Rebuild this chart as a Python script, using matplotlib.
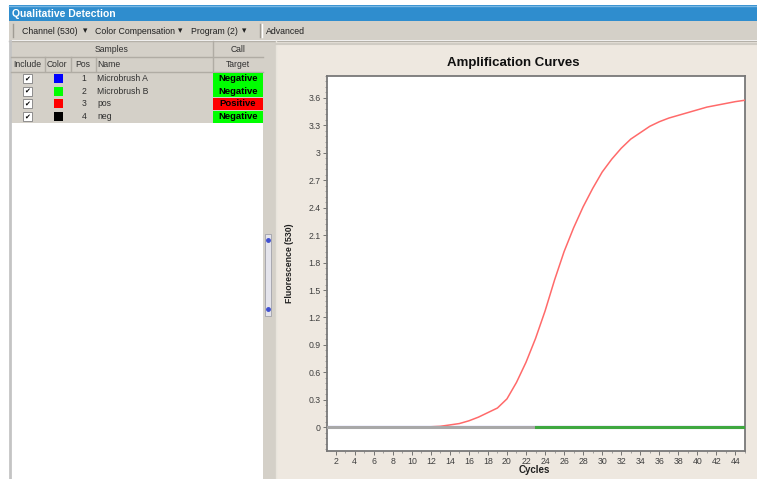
import numpy as np
import matplotlib
matplotlib.use("Agg")
from matplotlib import pyplot as plt
from matplotlib.patches import Rectangle
from matplotlib.ticker import MultipleLocator

plt.rcParams['font.family'] = ['Liberation Sans', 'DejaVu Sans']

# данные
cycles = np.arange(1, 46)
pos_vals = [0, 0, 0, 0, 0, 0, 0, 0, 0, 0, 0, 0.005, 0.01, 0.025, 0.04,
            0.07, 0.11, 0.16, 0.21, 0.31, 0.49, 0.71, 0.97, 1.27, 1.61,
            1.92, 2.18, 2.41, 2.61, 2.79, 2.93, 3.05, 3.15, 3.22, 3.29,
            3.34, 3.38, 3.41, 3.44, 3.47, 3.50, 3.52, 3.54, 3.56, 3.575]
neg_vals = [0.0] * 45
mbA_vals = [0.0] * 45
mbB_vals = [0.0] * 45
green_from = 22.5

sample_pos = [1, 2, 3, 4]
sample_names = ['Microbrush A', 'Microbrush B', 'pos', 'neg']
sample_colors = ['#0000ff', '#00ff00', '#ff0000', '#000000']
sample_calls = ['Negative', 'Negative', 'Positive', 'Negative']
call_colors = {'Negative': '#00ff00', 'Positive': '#ff0000'}

W, H = 757, 479
fig = plt.figure(figsize=(W / 100, H / 100), dpi=100)
fig.patch.set_facecolor('white')

# фон интерфейса в пиксельных координатах
bg = fig.add_axes([0, 0, 1, 1])
bg.set_xlim(0, W)
bg.set_ylim(H, 0)
bg.axis('off')


def box(x0, y0, x1, y1, fc, ec='none', lw=0.8, z=1):
    bg.add_patch(Rectangle((x0, y0), x1 - x0, y1 - y0, facecolor=fc,
                           edgecolor=ec, linewidth=lw, zorder=z))


def vline(x, y0, y1, c, lw=1, z=2):
    bg.plot([x, x], [y0, y1], color=c, lw=lw, zorder=z)


def hline(y, x0, x1, c, lw=1, z=2):
    bg.plot([x0, x1], [y, y], color=c, lw=lw, zorder=z)


# заголовок окна
box(9, 5, W, 21, '#2f8dce')
hline(5.5, 9, W, '#7ab8e4')
bg.text(12, 13.5, 'Qualitative Detection', color='white', fontsize=7.5,
        fontweight='bold', va='center', ha='left', zorder=3)

# панель инструментов
box(9, 21, W, 40, '#d4d0c8')
hline(40.5, 9, W, '#b5b1a9')
vline(13, 24, 37, '#a09c94')
vline(260, 24, 37, '#a09c94')
vline(262, 24, 37, '#ffffff')
tb = [(22, 'Channel (530)'), (83, '\u25be'), (95, 'Color Compensation'),
      (178, '\u25be'), (191, 'Program (2)'), (242, '\u25be'), (266, 'Advanced')]
for x, t in tb:
    bg.text(x, 31, t, fontsize=6.3, color='#202020', va='center', ha='left', zorder=3)

# левая панель – таблица образцов
box(9, 41, 263, H, '#ffffff')
vline(10, 41, H, '#c4c4c4', lw=2)
box(11, 41, 263, 123, '#d4d0c8')
hline(56.5, 11, 263, '#b0aca4')
hline(71.5, 11, 263, '#b0aca4')
vline(212.5, 41, 71, '#b0aca4')
for x in [44.5, 70.5, 95.5]:
    vline(x, 57, 71, '#b0aca4')
bg.text(112, 49, 'Samples', fontsize=6.2, color='#303030', ha='center', va='center', zorder=3)
bg.text(238, 49, 'Call', fontsize=6.2, color='#303030', ha='center', va='center', zorder=3)
for x, t, ha in [(27, 'Include', 'center'), (57, 'Color', 'center'),
                 (83, 'Pos', 'center'), (97, 'Name', 'left'), (238, 'Target', 'center')]:
    bg.text(x, 64, t, fontsize=6.2, color='#303030', ha=ha, va='center', zorder=3)

row_y = [78.5, 91, 103.5, 116.5]
for i, y in enumerate(row_y):
    box(23, y - 4.5, 32, y + 4.5, '#ffffff', ec='#808080', lw=0.6, z=3)
    bg.text(27.5, y, '\u2714', fontsize=5, color='black', ha='center', va='center',
            zorder=4, family='DejaVu Sans')
    box(54, y - 4.5, 63, y + 4.5, sample_colors[i], z=3)
    bg.text(84, y, str(sample_pos[i]), fontsize=6.2, color='#303030',
            ha='center', va='center', zorder=3)
    bg.text(97, y, sample_names[i], fontsize=6.2, color='#303030',
            ha='left', va='center', zorder=3)
    box(213, y - 6, 263, y + 6, call_colors[sample_calls[i]], z=3)
    bg.text(238, y, sample_calls[i], fontsize=6.8, fontweight='bold', color='black',
            ha='center', va='center', zorder=4)

# разделитель
box(263, 41, 276, H, '#d4d0c8')
vline(275.5, 41, H, '#e8e4dc')
box(264.5, 234, 270.5, 316, '#e4e4ec', ec='#a0a0a8', lw=0.6, z=3)
for y in [240, 309]:
    bg.plot(267.5, y, marker='o', ms=2.5, color='#4050d0', zorder=4)

# правая панель
box(276, 41, W, H, '#eee8e0')
hline(44, 276, W, '#d0ccc4', lw=1.5)

bg.text(513, 63, 'Amplification Curves', fontsize=9.5, fontweight='heavy',
        color='#101010', ha='center', va='center', zorder=3)
bg.text(290, 263, 'Fluorescence (530)', fontsize=6.3, fontweight='bold',
        color='#202020', rotation=90, ha='center', va='center', zorder=3)
bg.text(534, 470, 'Cycles', fontsize=7, fontweight='bold',
        color='#202020', ha='center', va='center', zorder=3)

# график
ax = fig.add_axes([327 / W, 1 - 451 / H, (745 - 327) / W, (451 - 76) / H])
ax.set_facecolor('white')
ax.plot(cycles, mbA_vals, color='#0000ff', lw=1.5, zorder=2)
ax.plot(cycles, pos_vals, color='#ff6a6a', lw=1.1, zorder=3)
ax.plot(cycles, neg_vals, color='#a8a8a8', lw=2.2, zorder=4)
green = np.where(cycles >= green_from, np.array(mbB_vals), np.nan)
ax.plot(cycles, green, color='#3fa83f', lw=2.2, zorder=5)

ax.set_xlim(1.1, 45)
ax.set_ylim(-0.26, 3.84)
ax.xaxis.set_major_locator(MultipleLocator(2))
ax.xaxis.set_minor_locator(MultipleLocator(1))
ax.yaxis.set_major_locator(MultipleLocator(0.3))
ax.yaxis.set_minor_locator(MultipleLocator(0.06))
ax.set_yticks(np.arange(0, 3.61, 0.3))
ax.set_yticklabels(['0', '0.3', '0.6', '0.9', '1.2', '1.5', '1.8', '2.1',
                    '2.4', '2.7', '3', '3.3', '3.6'])
ax.tick_params(axis='both', which='major', labelsize=6.3, labelcolor='#404040',
               color='#606060', length=3, width=0.6, pad=1.5)
ax.tick_params(axis='both', which='minor', color='#808080', length=1.5, width=0.5)
for s in ax.spines.values():
    s.set_color('#787878')
    s.set_linewidth(1.3)

fig.savefig('out.png', dpi=100, facecolor=fig.get_facecolor())
